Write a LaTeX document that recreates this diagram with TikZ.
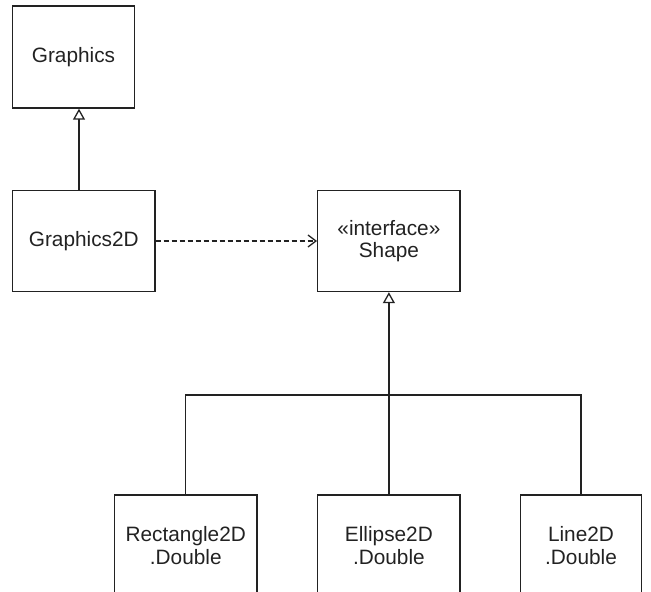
\documentclass[tikz,border=0pt]{standalone}
\usepackage{fontspec}
\setmainfont{Liberation Sans}
\usetikzlibrary{arrows.meta,calc}
\definecolor{ink}{HTML}{222222}
\tikzset{
  cls/.style={draw=ink, line width=1.4pt, inner sep=0pt, align=center, text=ink,
    font=\fontsize{20.8}{22.5}\selectfont, minimum height=101pt},
  conn/.style={draw=ink, line width=1.4pt},
  inherit/.style={conn, -{Triangle[open,length=11pt,width=12pt,line width=1.3pt]}},
  dep/.style={conn, dash pattern=on 5pt off 3pt, -{Straight Barb[length=8pt,width=12pt,line width=1.3pt]}}
}
\begin{document}
\begin{tikzpicture}[x=1pt,y=-1pt]
\useasboundingbox (0,0) rectangle (651,592);
\node[cls, minimum width=122pt, minimum height=102pt] (g) at (73.5,57) {Graphics};
\node[cls, minimum width=142.5pt] (g2d) at (83.75,241) {Graphics2D};
\node[cls, minimum width=142.3pt] (shape) at (388.9,241) {«interface»\\Shape};
\node[cls, minimum width=142.5pt] (rect) at (185.75,545.5) {Rectangle2D\\.Double};
\node[cls, minimum width=142.3pt] (ell) at (388.9,545.5) {Ellipse2D\\.Double};
\node[cls, minimum width=121pt] (line) at (581,545.5) {Line2D\\.Double};
\coordinate (gx) at (79,0);
\coordinate (bus) at (388.9,395);
\draw[inherit] (g2d.north -| gx) -- (g.south -| gx);
\draw[dep] (g2d.east) -- (shape.west);
\draw[inherit] (ell.north) -- (shape.south);
\draw[conn] (rect.north) |- (bus) -| (line.north);
\end{tikzpicture}
\end{document}
